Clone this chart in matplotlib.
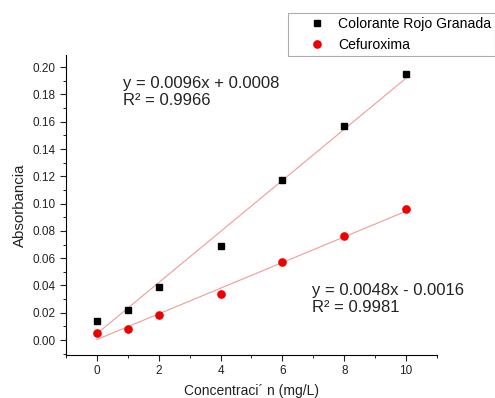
import numpy as np
import matplotlib
matplotlib.use('Agg')
import matplotlib.pyplot as plt
from matplotlib.ticker import MultipleLocator

plt.rcParams['font.family'] = ['Liberation Sans', 'DejaVu Sans']

conc = [0, 1, 2, 4, 6, 8, 10]
rojo = [0.014, 0.022, 0.039, 0.069, 0.117, 0.157, 0.195]
cefu = [0.005, 0.008, 0.018, 0.034, 0.057, 0.076, 0.096]

fig = plt.figure(figsize=(4.95, 3.98), dpi=100)
ax = fig.add_axes([0.133, 0.108, 0.75, 0.754])

x = np.array(conc, dtype=float)
for yv in (rojo, cefu):
    m, b = np.polyfit(x, yv, 1)
    ax.plot(x[[0, -1]], m * x[[0, -1]] + b, color='#f39a9a', lw=0.8, zorder=1)

ax.plot(conc, rojo, 's', color='black', ms=4.8, label='Colorante Rojo Granada', zorder=3)
ax.plot(conc, cefu, 'o', color='#ee0000', ms=5.2, label='Cefuroxima', zorder=3)

ax.set_xlim(-1, 11)
ax.set_ylim(-0.011, 0.209)
ax.xaxis.set_major_locator(MultipleLocator(2))
ax.xaxis.set_minor_locator(MultipleLocator(1))
ax.yaxis.set_major_locator(MultipleLocator(0.02))
ax.yaxis.set_minor_locator(MultipleLocator(0.01))
ax.yaxis.set_major_formatter(plt.FormatStrFormatter('%.2f'))
for s in ('top', 'right'):
    ax.spines[s].set_visible(False)
ax.tick_params(which='major', direction='out', length=4, labelsize=8.5, colors='#222222')
ax.tick_params(which='minor', direction='out', length=2.5)
ax.set_xlabel('Concentraci\u00b4 n (mg/L)', fontsize=10, color='#222222', labelpad=5)
ax.set_ylabel('Absorbancia', fontsize=10.8, color='#222222', labelpad=4)

fig.text(123 / 495, 1 - 92 / 398, 'y = 0.0096x + 0.0008\nR\u00b2 = 0.9966',
         fontsize=12, va='center', ha='left', linespacing=1.15, color='#222222')
fig.text(312 / 495, 1 - 299 / 398, 'y = 0.0048x - 0.0016\nR\u00b2 = 0.9981',
         fontsize=12, va='center', ha='left', linespacing=1.15, color='#222222')

leg = fig.legend(loc='upper left', bbox_to_anchor=(288 / 495, 1 - 13 / 398),
                 fontsize=10.1, frameon=True, fancybox=False, edgecolor='#999999',
                 handlelength=3.6, handletextpad=-0.35, borderpad=0.3,
                 labelspacing=0.45, borderaxespad=0)
leg.get_frame().set_linewidth(0.8)

fig.savefig('out.png', dpi=100)
